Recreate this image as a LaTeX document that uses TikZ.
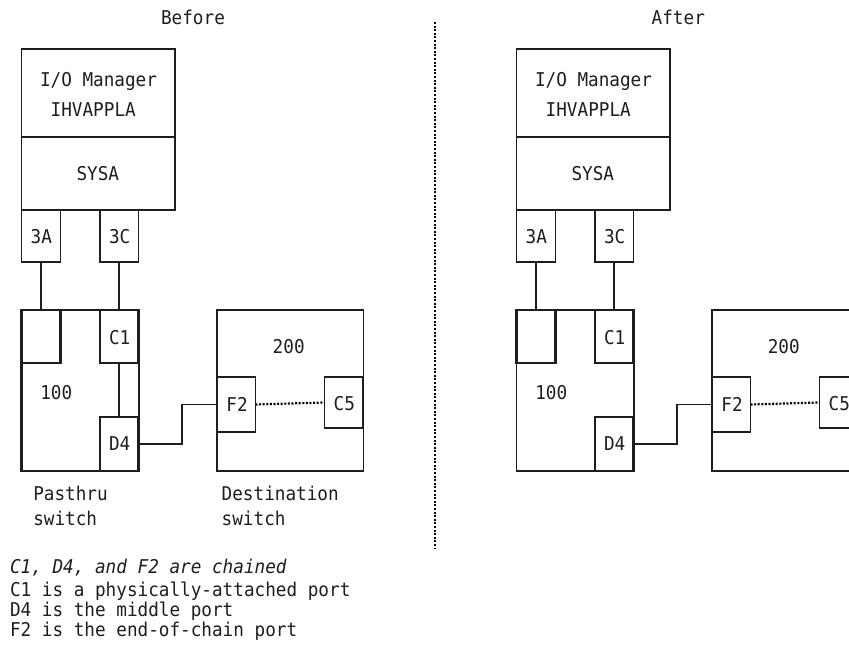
\documentclass[tikz,border=0pt]{standalone}
\usepackage{fontspec}
\setmonofont[FakeStretch=0.93]{DejaVu Sans Mono}
\usetikzlibrary{calc}
\definecolor{ink}{HTML}{1E1E1E}
\tikzset{
  bx/.style={draw=ink, line width=1.7pt, inner sep=0pt, outer sep=0pt},
  thickbx/.style={bx, line width=2.6pt},
  lnk/.style={draw=ink, line width=1.7pt},
  dots/.style={draw=black, line width=2.2pt, dash pattern=on 2pt off 1.6pt},
  txt/.style={inner sep=0pt, outer sep=0pt, text=ink, font=\ttfamily\fontsize{19}{20}\selectfont},
}
% \mybx{opts}{name}{x1}{y1}{x2}{y2}
\newcommand\mybx[6]{\node[#1, minimum width={(#5-#3)*1pt}, minimum height={(#6-#4)*1pt}] (#2) at ({(#3+#5)/2},{(#4+#6)/2}) {};}
\newcommand\mypanel[2]{%
  \mybx{bx}{#1mgr}{21.5}{49}{175}{137}
  \mybx{bx}{#1sysa}{21.5}{137}{175}{210}
  \mybx{bx}{#1p3A}{21.5}{210}{60.5}{262}
  \mybx{bx}{#1p3C}{100}{210}{138.5}{262}
  \mybx{bx,line width=#2}{#1sw}{21.5}{310}{139}{471}
  \mybx{thickbx}{#1pX}{21.5}{310}{60.5}{363}
  \mybx{thickbx}{#1pC1}{100}{310}{138.5}{363}
  \mybx{thickbx}{#1pD4}{100}{417}{138.5}{471}
  \mybx{bx}{#1swb}{217}{310}{363.5}{471}
  \mybx{bx}{#1pF2}{217}{377}{255.5}{432}
  \mybx{bx}{#1pC5}{324.5}{377}{363}{428}
  \node[txt, anchor=base west] (#1t1) at (40,86) {I/O Manager};
  \node[txt, anchor=base west] (#1t2) at (50.7,116) {IHVAPPLA};
  \node[txt, anchor=base] (#1t3) at (97.8,180.7) {SYSA};
  \node[txt, anchor=base] (#1t4) at (41.3,243) {3A};
  \node[txt, anchor=base] (#1t5) at (119.7,243) {3C};
  \node[txt, anchor=base] (#1t6) at (119.7,344.3) {C1};
  \node[txt, anchor=base] (#1t7) at (56.3,399.3) {100};
  \node[txt, anchor=base] (#1t8) at (119.7,450.7) {D4};
  \node[txt, anchor=base] (#1t9) at (288.7,353.3) {200};
  \node[txt, anchor=base] (#1t10) at (237,411.7) {F2};
  \node[txt, anchor=base] (#1t11) at (344.3,410) {C5};
  \draw[lnk] (#1p3A.south) -- (#1pX.north);
  \draw[lnk] (#1p3C.south) -- (#1pC1.north);
  \draw[lnk] (#1pD4.east) -- ++(43.5,0) |- (#1pF2.west);
  \draw[dots] (#1pF2.east) -- (#1pC5.west);
}
\begin{document}
\begin{tikzpicture}[x=1pt,y=-1pt]
\useasboundingbox (0,0) rectangle (849,645);
\clip (0,0) rectangle (849,645);
\fill[white] (0,0) rectangle (849,645);
% Before panel
\mypanel{b}{2.4pt}
\draw[lnk] (bpC1.south) -- (bpD4.north);
\node[txt, anchor=base] (before) at (193,24) {Before};
\node[txt, anchor=base west] (pas1) at (33.3,500) {Pasthru};
\node[txt, anchor=base west] (pas2) at (33.3,525) {switch};
\node[txt, anchor=base west] (dst1) at (221.7,500) {Destination};
\node[txt, anchor=base west] (dst2) at (221.7,525) {switch};
\node[txt, anchor=base west] (n1) at (10,573.3) {\itshape C1, D4, and F2 are chained};
\node[txt, anchor=base west] (n2) at (10,596.7) {C1 is a physically-attached port};
\node[txt, anchor=base west] (n3) at (10,616.7) {D4 is the middle port};
\node[txt, anchor=base west] (n4) at (10,636.7) {F2 is the end-of-chain port};
% divider
\coordinate (dtop) at (435,22);
\coordinate (dbot) at (435,548);
\draw[dots] (dtop) -- (dbot);
% After panel
\begin{scope}[xshift=495pt]
\mypanel{a}{1.7pt}
\end{scope}
\node[txt, anchor=base] (after) at (678.3,24) {After};
\end{tikzpicture}
\end{document}
